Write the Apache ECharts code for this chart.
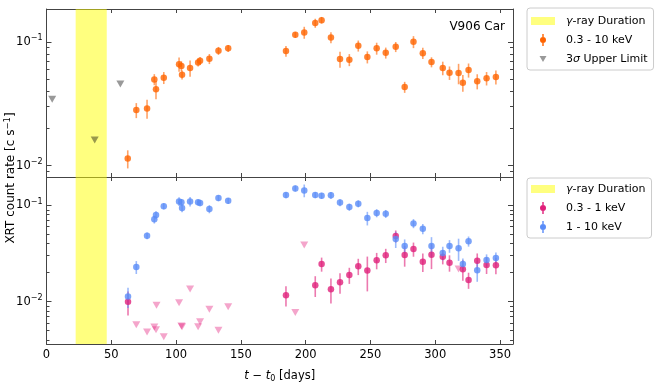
<!DOCTYPE html>
<html>
<head>
<meta charset="utf-8">
<script src="https://cdn.jsdelivr.net/npm/echarts@6.0.0/dist/echarts.min.js"></script>
<style>
  html, body { margin: 0; padding: 0; background: #fff; }
  #chart { width: 665px; height: 384px; }
</style>
</head>
<body>
<div id="chart"></div>
<script>
// gamma-ray duration (days)
var spanStart = 22.5, spanEnd = 46.5;

// top panel: 0.3 - 10 keV  [t, rate, err]
var hardSoft = [
  [62.7, 0.0114, 0.0019], [69.3, 0.0281, 0.0039], [77.6, 0.029, 0.0051], [83.2, 0.0497, 0.0051],
  [84.5, 0.0413, 0.0069], [90.5, 0.0513, 0.0057], [102.3, 0.066, 0.0086], [104.1, 0.0637, 0.0059],
  [104.6, 0.0542, 0.0045], [110.8, 0.0614, 0.0091], [117.0, 0.0682, 0.0051], [118.5, 0.0703, 0.0052],
  [125.7, 0.0729, 0.0068], [132.7, 0.0846, 0.0063], [140.2, 0.0885, 0.0058], [184.8, 0.0841, 0.0083],
  [192.0, 0.1138, 0.0064], [198.9, 0.119, 0.0132], [207.4, 0.1416, 0.0119], [212.3, 0.1496, 0.0092],
  [219.5, 0.1084, 0.011], [226.5, 0.0725, 0.0108], [233.7, 0.0716, 0.008], [240.6, 0.0929, 0.0095],
  [247.6, 0.0753, 0.0084], [254.8, 0.0885, 0.0098], [261.8, 0.0815, 0.0083], [269.5, 0.0911, 0.0085],
  [276.4, 0.0431, 0.0044], [283.2, 0.1, 0.0111], [290.4, 0.081, 0.0085], [297.1, 0.0686, 0.0064],
  [305.8, 0.0614, 0.0077], [311.0, 0.0562, 0.007], [318.0, 0.0559, 0.0105], [321.3, 0.0467, 0.0072],
  [325.7, 0.0591, 0.0077], [332.4, 0.048, 0.0067], [339.6, 0.0507, 0.0063], [346.8, 0.0519, 0.0067]
];
// 3 sigma upper limits, 0.3 - 10 keV
var ulAll = [[4.4, 0.0343], [37.2, 0.0161], [57.0, 0.0456]];

// bottom panel: 1 - 10 keV
var hard = [
  [62.9, 0.0113, 0.0027], [69.3, 0.0229, 0.0035], [77.6, 0.0484, 0.0038], [83.2, 0.0716, 0.0068],
  [84.5, 0.0794, 0.0076], [90.5, 0.098, 0.0071], [102.3, 0.110, 0.0113], [104.1, 0.108, 0.0078],
  [104.6, 0.0937, 0.009], [110.8, 0.110, 0.0124], [117.0, 0.108, 0.0078], [118.5, 0.1056, 0.0076],
  [125.7, 0.0916, 0.0088], [132.7, 0.119, 0.0086], [140.2, 0.1116, 0.008], [184.8, 0.128, 0.0092],
  [192.0, 0.150, 0.0108], [198.9, 0.143, 0.0216], [207.4, 0.128, 0.0092], [212.3, 0.126, 0.0091],
  [219.5, 0.127, 0.0107], [226.5, 0.107, 0.009], [233.7, 0.096, 0.0081], [240.6, 0.104, 0.0087],
  [247.6, 0.0738, 0.0119], [254.8, 0.0832, 0.008], [261.8, 0.0818, 0.0078], [269.5, 0.0447, 0.0086],
  [276.4, 0.0379, 0.0064], [283.2, 0.065, 0.007], [290.4, 0.0571, 0.0069], [297.1, 0.0379, 0.0089],
  [305.8, 0.032, 0.0052], [311.0, 0.0379, 0.0057], [318.0, 0.0358, 0.0093], [321.3, 0.0246, 0.0035],
  [325.7, 0.0424, 0.0051], [332.4, 0.0212, 0.0051], [339.6, 0.0271, 0.0039], [346.8, 0.0284, 0.0041]
];
// bottom panel: 0.3 - 1 keV
var soft = [
  [62.9, 0.0100, 0.0028], [184.8, 0.0117, 0.0028], [207.4, 0.0148, 0.0036], [212.3, 0.0246, 0.0041],
  [219.5, 0.0135, 0.0039], [226.5, 0.0159, 0.0038], [233.7, 0.0189, 0.0036], [240.6, 0.0234, 0.0045],
  [247.6, 0.0211, 0.0083], [254.8, 0.0269, 0.0052], [261.8, 0.0303, 0.0051], [269.5, 0.048, 0.0069],
  [276.4, 0.0305, 0.0074], [283.2, 0.0352, 0.0059], [290.4, 0.026, 0.0056], [297.1, 0.0307, 0.0089],
  [305.8, 0.0293, 0.0049], [311.0, 0.0254, 0.0049], [321.3, 0.0217, 0.0052], [325.7, 0.0168, 0.0032],
  [332.4, 0.0266, 0.0051], [339.6, 0.024, 0.0046], [346.8, 0.0239, 0.0046]
];
// upper limits, 0.3 - 1 keV
var ulSoft = [
  [69.3, 0.00575], [77.6, 0.00486], [83.2, 0.00547], [84.5, 0.00513], [84.9, 0.00917], [90.5, 0.00433],
  [102.3, 0.00977], [104.1, 0.0056], [104.6, 0.00551], [110.8, 0.01355], [117.0, 0.00551], [118.5, 0.00621],
  [125.7, 0.00834], [132.7, 0.00505], [140.2, 0.00887], [192.0, 0.00774], [198.9, 0.0387], [318.0, 0.0218]
];

var xTicks = [0, 50, 100, 150, 200, 250, 300, 350];
var majorTop = [0.01, 0.1];
var minorTop = [0.009, 0.02, 0.03, 0.04, 0.05, 0.06, 0.07, 0.08, 0.09];
var majorBot = [0.01, 0.1];
var minorBot = [0.004, 0.005, 0.006, 0.007, 0.008, 0.009, 0.02, 0.03, 0.04, 0.05, 0.06, 0.07, 0.08, 0.09];

var FONT = 'DejaVu Sans';
var spine = { color: '#444', width: 1 };
var cOrange = '#ff6400', cBlue = '#5a8cf8', cMag = '#e0207a';

var chart = echarts.init(document.getElementById('chart'));

function errData(arr) {
  return arr.map(function (d) { return [d[0], d[1] - d[2], d[1] + d[2]]; });
}
function errBars(name, arr, color, xi, yi) {
  return {
    name: name, type: 'custom', xAxisIndex: xi, yAxisIndex: yi, z: 3,
    itemStyle: { color: color },
    encode: { x: 0, y: [1, 2] },
    renderItem: function (params, api) {
      var a = api.coord([api.value(0), api.value(1)]);
      var b = api.coord([api.value(0), api.value(2)]);
      return { type: 'line', shape: { x1: a[0], y1: a[1], x2: b[0], y2: b[1] },
        style: { stroke: color, lineWidth: 1.6 } };
    },
    data: errData(arr)
  };
}
function xAx(grid, pos, labels) {
  return {
    type: 'value', gridIndex: grid, position: pos, min: 0, max: 360, interval: 50,
    axisLine: { show: true, onZero: false, lineStyle: spine },
    axisTick: { show: true, inside: true, length: 4, lineStyle: spine, customValues: xTicks },
    axisLabel: { show: labels, color: '#000', fontFamily: FONT, fontSize: 11.5, margin: 5, customValues: xTicks },
    splitLine: { show: false },
    name: labels ? '{i|t} − {i|t}{sub|0} [days]' : '',
    nameLocation: 'middle', nameGap: 25,
    nameTextStyle: { color: '#000', fontFamily: FONT, fontSize: 11.5,
      rich: { i: { fontStyle: 'italic', fontFamily: FONT, fontSize: 11.5 },
              sub: { fontSize: 8, fontFamily: FONT, padding: [6, 0, 0, 0] } } }
  };
}
function supLabel(v) {
  var e = Math.round(Math.log10(v));
  if (Math.abs(Math.log10(v) - e) > 1e-6) return '';
  return '10{sup|' + (e < 0 ? '−' + (-e) : e) + '}';
}
function yAx(grid, pos, min, max, vals, len, labels) {
  return {
    type: 'log', logBase: 10, gridIndex: grid, position: pos, min: min, max: max,
    axisLine: { show: len > 3, lineStyle: spine },
    axisTick: { show: true, inside: true, length: len, lineStyle: spine, customValues: vals },
    axisLabel: { show: labels, customValues: vals, formatter: supLabel, color: '#000', margin: 4,
      fontFamily: FONT, fontSize: 11.5,
      rich: { sup: { fontSize: 8, fontFamily: FONT, padding: [0, 0, 7, 0] } } },
    splitLine: { show: false }
  };
}

// legend icons, 30x12 boxes
var iconRect = 'path://M0,0h0.01v0.01h-0.01z M30,12h-0.01v-0.01h0.01z M0,2h24v8h-24z';
var iconErr = 'path://M0,0h0.01v0.01h-0.01z M30,12h-0.01v-0.01h0.01z M11.3,0h1.4v3h-1.4z M11.3,9h1.4v3h-1.4z M12,3a3,3 0 1 1 0,6a3,3 0 1 1 0,-6z';
var iconTri = 'path://M0,0h0.01v0.01h-0.01z M30,12h-0.01v-0.01h0.01z M8.5,3h7l-3.5,6z';
var legendBase = {
  orient: 'vertical', left: 527, itemWidth: 30, itemHeight: 12, itemGap: 7,
  borderColor: '#ccc', borderWidth: 1, borderRadius: 3, backgroundColor: 'rgba(255,255,255,0.8)',
  selectedMode: false,
  textStyle: { color: '#000', fontFamily: FONT, fontSize: 11, lineHeight: 12,
    rich: { i: { fontStyle: 'italic', fontFamily: FONT, fontSize: 11 } } },
  formatter: function (n) {
    return n.replace('γ', '{i|γ}').replace('σ', '{i|σ}');
  }
};

var option = {
  backgroundColor: '#fff',
  animation: false,
  title: { text: 'V906 Car', right: 160, top: 21, padding: 0,
    textStyle: { fontFamily: FONT, fontSize: 12, fontWeight: 'normal', color: '#000' } },
  graphic: [{
    type: 'text', x: 11, y: 178, rotation: Math.PI / 2,
    style: { text: 'XRT count rate [c s{sup|−1}]', align: 'center', verticalAlign: 'middle',
      fill: '#000', fontFamily: FONT, fontSize: 12,
      rich: { sup: { fontSize: 8.5, fontFamily: FONT, padding: [0, 0, 7, 0] } } }
  }],
  legend: [
    Object.assign({}, legendBase, { top: 8, padding: [7, 6, 5, 4],
      data: [
        { name: 'γ-ray Duration', icon: iconRect, itemStyle: { color: 'rgba(255,255,0,0.5)' } },
        { name: '0.3 - 10 keV', icon: iconErr, itemStyle: { color: cOrange } },
        { name: '3σ Upper Limit', icon: iconTri, itemStyle: { color: 'rgba(0,0,0,0.5)' } }
      ] }),
    Object.assign({}, legendBase, { top: 178, padding: [5, 6, 5, 4],
      data: [
        { name: 'γ-ray Duration', icon: iconRect, itemStyle: { color: 'rgba(255,255,0,0.5)' } },
        { name: '0.3 - 1 keV', icon: iconErr, itemStyle: { color: cMag } },
        { name: '1 - 10 keV', icon: iconErr, itemStyle: { color: cBlue } }
      ] })
  ],
  grid: [
    { left: 46.5, right: 152, top: 9, height: 168 },
    { left: 46.5, right: 152, top: 177, height: 167 }
  ],
  xAxis: [xAx(0, 'bottom', false), xAx(0, 'top', false), xAx(1, 'bottom', true), xAx(1, 'top', false)],
  yAxis: [
    yAx(0, 'left', 0.0081, 0.184, majorTop, 5, true),
    yAx(0, 'left', 0.0081, 0.184, minorTop, 3, false),
    yAx(0, 'right', 0.0081, 0.184, majorTop, 5, false),
    yAx(0, 'right', 0.0081, 0.184, minorTop, 3, false),
    yAx(1, 'left', 0.00364, 0.197, majorBot, 5, true),
    yAx(1, 'left', 0.00364, 0.197, minorBot, 3, false),
    yAx(1, 'right', 0.00364, 0.197, majorBot, 5, false),
    yAx(1, 'right', 0.00364, 0.197, minorBot, 3, false)
  ],
  series: [
    { name: 'γ-ray Duration', type: 'line', xAxisIndex: 0, yAxisIndex: 0, data: [], z: 1,
      itemStyle: { color: 'rgba(255,255,0,0.5)' },
      markArea: { silent: true, itemStyle: { color: 'rgba(255,255,0,0.5)' },
        data: [[{ xAxis: spanStart }, { xAxis: spanEnd }]] } },
    errBars('0.3 - 10 keV', hardSoft, 'rgba(255,100,0,0.6)', 0, 0),
    { name: '0.3 - 10 keV', type: 'scatter', xAxisIndex: 0, yAxisIndex: 0, z: 4,
      symbol: 'circle', symbolSize: 6.5, itemStyle: { color: cOrange },
      data: hardSoft.map(function (d) { return [d[0], d[1]]; }) },
    { name: '3σ Upper Limit', type: 'scatter', xAxisIndex: 0, yAxisIndex: 0, z: 4,
      symbol: 'triangle', symbolRotate: 180, symbolSize: [8, 7],
      itemStyle: { color: 'rgba(0,0,0,0.5)' }, data: ulAll },

    { name: 'γ-ray Duration', type: 'line', xAxisIndex: 2, yAxisIndex: 4, data: [], z: 1,
      itemStyle: { color: 'rgba(255,255,0,0.5)' },
      markArea: { silent: true, itemStyle: { color: 'rgba(255,255,0,0.5)' },
        data: [[{ xAxis: spanStart }, { xAxis: spanEnd }]] } },
    { name: 'soft upper limit', type: 'scatter', xAxisIndex: 2, yAxisIndex: 4, z: 4,
      symbol: 'triangle', symbolRotate: 180, symbolSize: [8, 7],
      itemStyle: { color: 'rgba(228,30,125,0.5)' }, data: ulSoft },
    errBars('0.3 - 1 keV', soft, 'rgba(224,32,122,0.6)', 2, 4),
    { name: '0.3 - 1 keV', type: 'scatter', xAxisIndex: 2, yAxisIndex: 4, z: 4,
      symbol: 'circle', symbolSize: 6.5, itemStyle: { color: cMag },
      data: soft.map(function (d) { return [d[0], d[1]]; }) },
    errBars('1 - 10 keV', hard, 'rgba(90,140,248,0.6)', 2, 4),
    { name: '1 - 10 keV', type: 'scatter', xAxisIndex: 2, yAxisIndex: 4, z: 4,
      symbol: 'circle', symbolSize: 6.5, itemStyle: { color: cBlue },
      data: hard.map(function (d) { return [d[0], d[1]]; }) }
  ]
};
option && chart.setOption(option);
</script>
</body>
</html>
